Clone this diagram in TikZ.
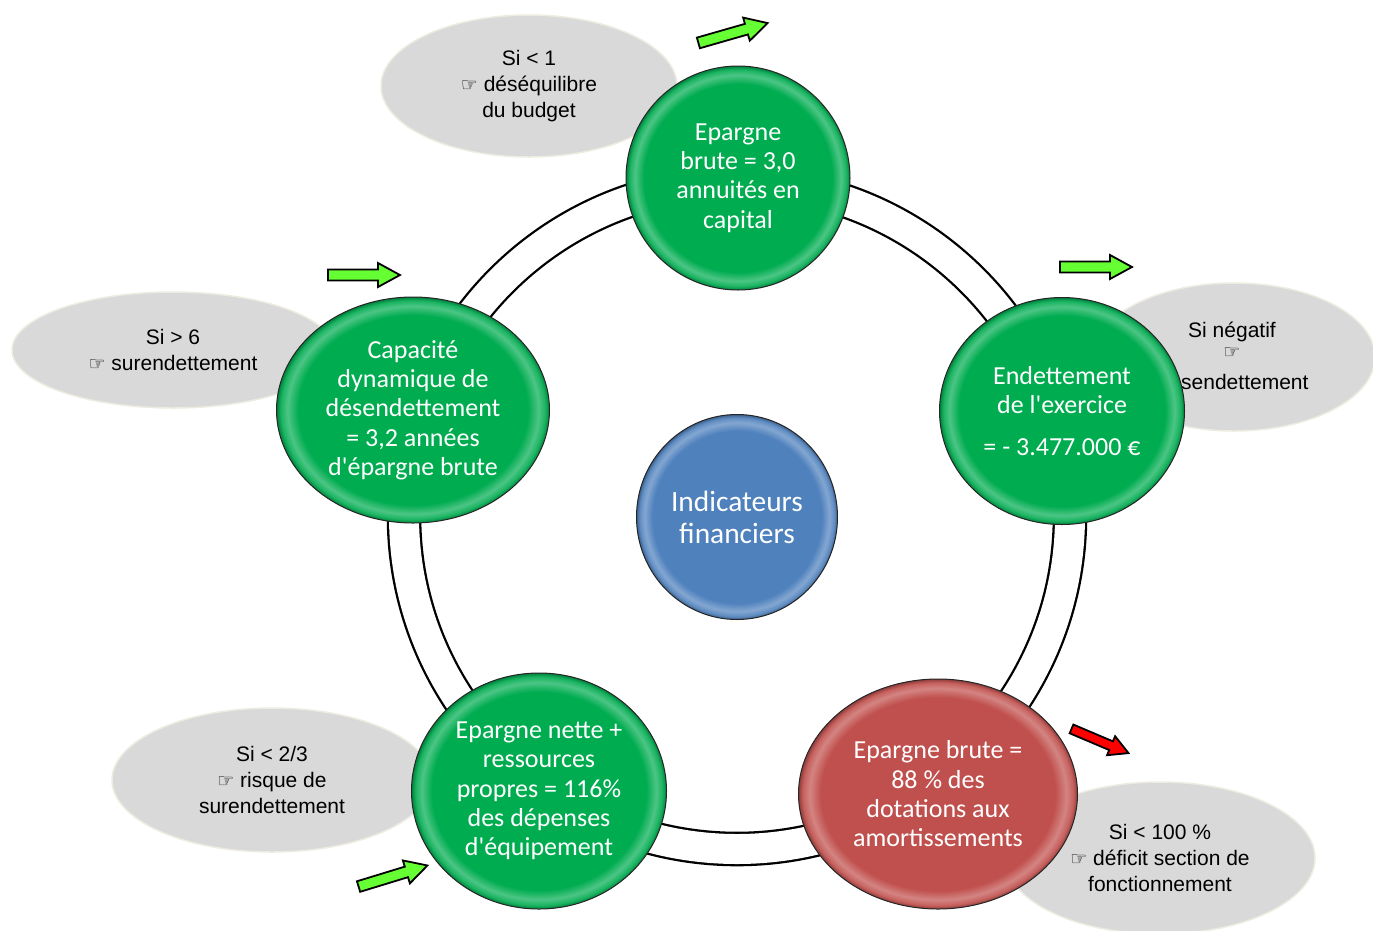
\documentclass[tikz,border=0pt]{standalone}
\usepackage{fontspec}
\setmainfont{Liberation Sans}
\newfontfamily\carlito{Carlito}
\newfontfamily\dejavu{DejaVu Sans}
\usetikzlibrary{shapes.geometric}
\colorlet{bulle}{black}
\definecolor{vert}{RGB}{0,172,80}
\definecolor{rouge}{RGB}{192,80,77}
\definecolor{bleu}{RGB}{79,129,189}
\definecolor{gris}{RGB}{217,217,217}
\definecolor{beige}{RGB}{238,236,225}
\definecolor{vertvif}{RGB}{102,255,51}
\pgfdeclareradialshading[bulle]{brillant}{\pgfpoint{0bp}{0bp}}{color(0bp)=(bulle); color(21bp)=(bulle); color(23bp)=(bulle!70!white); color(24.2bp)=(bulle!90!white); color(25bp)=(bulle!75!black); color(50bp)=(bulle!75!black)}
\newcommand\doigt{{\dejavu\fontsize{19}{19}\selectfont ☞}}

\begin{document}
\begin{tikzpicture}[x=1pt, y=-1pt,
	rond/.style={ellipse, draw=black!85, line width=1pt, /utils/exec={\colorlet{bulle}{#1}}, shade, shading=brillant, text=white, align=center, inner sep=0pt, font=\carlito\fontsize{26}{29.3}\selectfont},
	bulle grise/.style={ellipse, fill=gris, draw=beige, line width=1.5pt, align=center, inner sep=0pt, font=\fontsize{21}{26}\selectfont},
	texte gris/.style={inner sep=0pt, font=\fontsize{21}{26}\selectfont},
	pics/fleche/.style={code={\draw[line width=1.8pt, fill=#1, line join=miter] (-36,-5.5) -- (14,-5.5) -- (14,-12) -- (36,0) -- (14,12) -- (14,5.5) -- (-36,5.5) -- cycle;}}]
	\useasboundingbox (0,0) rectangle (1373,930);
	\node[bulle grise, minimum width=296pt, minimum height=142pt] (sibudget) at (529,86) {Si < 1\\\doigt{} déséquilibre\\du budget};
	\node[bulle grise, minimum width=322pt, minimum height=116pt] (sidette) at (173,350) {Si > 6\\\doigt{} surendettement};
	\node[bulle grise, minimum width=282pt, minimum height=148pt] (sinegatif) at (1234,357) {};
	\node[texte gris] (sinegtitre) at (1232,332) {Si négatif};
	\node[texte gris] (sinegdoigt) at (1232,353) {\doigt};
	\node[texte gris, anchor=west] (sinegfin) at (1181,382) {sendettement};
	\node[bulle grise, minimum width=320pt, minimum height=144pt] (sideuxtiers) at (272,780) {Si < 2/3\\\doigt{} risque de\\surendettement};
	\node[bulle grise, minimum width=310pt, minimum height=152pt] (sicent) at (1160,858) {Si < 100 \%\\\doigt{} déficit section de\\fonctionnement};
	\coordinate (centre) at (737,516);
	\draw[line width=2.3pt, double=white, double distance=30pt] (centre) circle [radius=333pt];
	\node[rond=vert, minimum width=224pt, minimum height=224pt] (brute) at (738,178) {Epargne\\brute = 3,0\\annuités en\\capital};
	\node[rond=vert, minimum width=245pt, minimum height=227pt] (exercice) at (1062,411) {Endettement\\de l'exercice\\[12pt]= - 3.477.000 €};
	\node[rond=vert, minimum width=273pt, minimum height=226pt] (capacite) at (413,410) {Capacité\\dynamique de\\désendettement\\= 3,2 années\\d'épargne brute};
	\node[rond=vert, minimum width=255pt, minimum height=236pt] (nette) at (539,791) {Epargne nette +\\ressources\\propres = 116\%\\des dépenses\\d'équipement};
	\node[rond=rouge, minimum width=279pt, minimum height=230pt] (dotations) at (938,794) {Epargne brute =\\88 \% des\\dotations aux\\amortissements};
	\node[rond=bleu, minimum width=201pt, minimum height=205pt, font=\carlito\fontsize{29.4}{32}\selectfont] (indicateurs) at (737,517) {Indicateurs\\financiers};
	\pic[rotate=16] at (733,33) {fleche=vertvif};
	\pic at (364,275) {fleche=vertvif};
	\pic at (1096,267) {fleche=vertvif};
	\pic[rotate=17] at (393,876) {fleche=vertvif};
	\pic[rotate=-23, scale=0.86] at (1100,741) {fleche=red};
\end{tikzpicture}
\end{document}
